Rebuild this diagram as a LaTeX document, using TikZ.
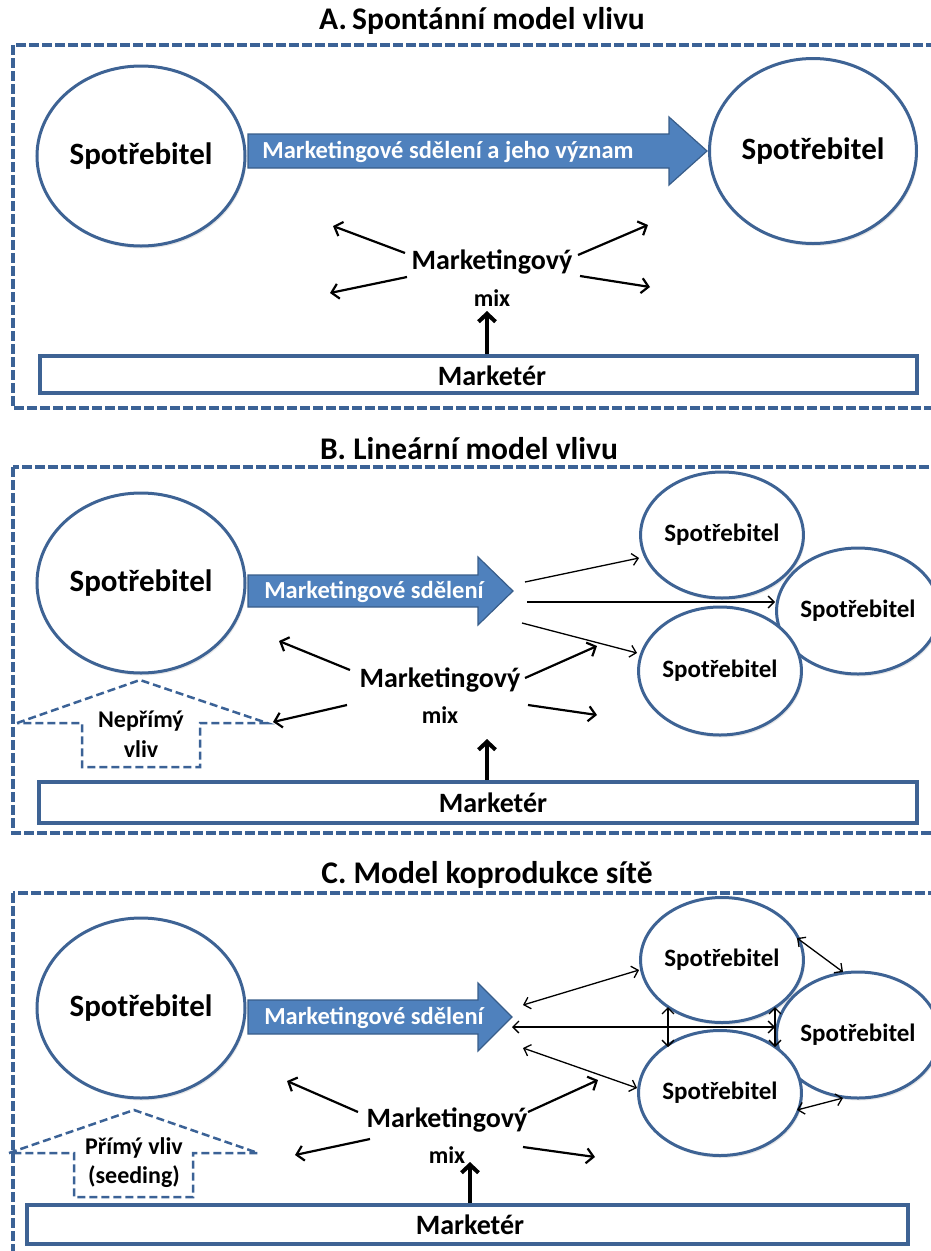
\documentclass[tikz,border=0pt]{standalone}
\usepackage{fontspec}
\setmainfont{Carlito}
\usetikzlibrary{arrows.meta,shapes.geometric,shadows}

\definecolor{frameblue}{RGB}{59,98,150}
\definecolor{ellblue}{RGB}{62,99,148}
\definecolor{arrfill}{RGB}{79,129,189}
\definecolor{arrline}{RGB}{56,93,138}

\tikzset{
  ttl/.style={font=\bfseries\fontsize{31.5}{33}\selectfont},
  ell/.style={ellipse, draw=ellblue, line width=3pt, fill=white, inner sep=0pt,
    drop shadow={shadow xshift=1.5pt, shadow yshift=-2.5pt, opacity=0.18},
    font=\bfseries\fontsize{31}{33}\selectfont},
  sell/.style={ell, font=\bfseries\fontsize{25}{27}\selectfont},
  panelframe/.style={draw=frameblue, line width=3.5pt, dash pattern=on 10pt off 3pt},
  house/.style={draw=frameblue, line width=2.5pt, dash pattern=on 8pt off 4pt, line join=miter},
  bigarr/.style={fill=arrfill, draw=arrline, line width=1.2pt},
  msg/.style={text=white, font=\bfseries\fontsize{24.5}{26}\selectfont},
  mixlbl/.style={font=\bfseries\fontsize{28}{30}\selectfont},
  mixsmall/.style={font=\bfseries\fontsize{24}{26}\selectfont},
  hlbl/.style={font=\bfseries\fontsize{24}{26}\selectfont, align=center},
  mixarr/.style={-{Straight Barb[length=7pt,width=15pt]}, line width=2.2pt},
  uparr/.style={-{Straight Barb[length=8pt,width=17pt]}, line width=4pt},
  thinarr/.style={-{Straight Barb[length=6pt,width=12pt]}, line width=1.3pt},
  dblarr/.style={{Straight Barb[length=6pt,width=12pt]}-{Straight Barb[length=6pt,width=12pt]}, line width=1.3pt},
  mbox/.style={draw=ellblue, line width=4pt, fill=white, inner sep=0pt,
    drop shadow={shadow xshift=1.5pt, shadow yshift=-2pt, opacity=0.18}},
  mtext/.style={font=\bfseries\fontsize{28}{30}\selectfont}
}

\begin{document}
\begin{tikzpicture}[x=1pt,y=-1pt]
\useasboundingbox (0,0) rectangle (931,1251);
\clip (0,0) rectangle (931,1251);

% ================= A. spontaneous model =================
\node[ttl] (titleA) at (482,21) {A.\,Spontánní model vlivu};
\draw[panelframe] (13,45) rectangle (950,408);

\node[ell, minimum width=208, minimum height=180] (cA1) at (141,156) {Spotřebitel};
\node[ell, minimum width=207, minimum height=185] (cA2) at (813,151) {Spotřebitel};

% message arrow
\draw[bigarr] (248,134) -- (669,134) -- (669,117) -- (707,151) -- (669,185) -- (669,168) -- (248,168) -- cycle;
\node[msg] (msgA) at (448,152) {Marketingové sdělení a jeho význam};

\node[mixlbl] (mA) at (492,262) {Marketingový};
\node[mixsmall] (xA) at (492,298) {mix};
\coordinate (a1s) at (405,253); \coordinate (a1e) at (333,226);
\coordinate (a2s) at (407,277); \coordinate (a2e) at (330,293);
\coordinate (a3s) at (578,255); \coordinate (a3e) at (648,225);
\coordinate (a4s) at (580,276); \coordinate (a4e) at (650,287);
\draw[mixarr] (a1s) -- (a1e);
\draw[mixarr] (a2s) -- (a2e);
\draw[mixarr] (a3s) -- (a3e);
\draw[mixarr] (a4s) -- (a4e);

\node[mbox, minimum width=877, minimum height=37] (boxA) at (478.5,374.5) {};
\node[mtext] (tA) at (492,376) {Marketér};
\coordinate (upAe) at (487,311);
\draw[uparr] (boxA.north -| upAe) -- (upAe);

% ================= B. linear model =================
\node[ttl] (titleB) at (469,449) {B. Lineární model vlivu};
\draw[panelframe] (13,467) rectangle (950,833);

\node[ell, minimum width=208, minimum height=180] (cB) at (141,583) {Spotřebitel};
\draw[bigarr] (248,575) -- (478,575) -- (478,557) -- (513,591) -- (478,625) -- (478,607) -- (248,607) -- cycle;
\node[msg] (msgB) at (374,592) {Marketingové sdělení};

\node[sell, minimum width=145, minimum height=126] (sB1) at (722,535) {Spotřebitel};
\node[sell, minimum width=146, minimum height=126] (sB2) at (858,611) {Spotřebitel};
\node[sell, minimum width=146, minimum height=128] (sB3) at (720,671) {Spotřebitel};

\coordinate (b1) at (525,582);
\coordinate (b2) at (527,602);
\coordinate (b3) at (522,623);
\draw[thinarr] (b1) -- (sB1.west |- 0,558);
\draw[thinarr] (b2) -- (sB2.west |- b2);
\draw[thinarr] (b3) -- (sB3.west |- 0,653);

\node[mixlbl] (mB) at (440,680) {Marketingový};
\node[mixsmall] (xB) at (440,715) {mix};
\coordinate (c1s) at (350,670); \coordinate (c1e) at (279,641);
\coordinate (c2s) at (347,705); \coordinate (c2e) at (273,722);
\coordinate (c3s) at (525,678); \coordinate (c3e) at (597,646);
\coordinate (c4s) at (528,705); \coordinate (c4e) at (597,715);
\draw[mixarr] (c1s) -- (c1e);
\draw[mixarr] (c2s) -- (c2e);
\draw[mixarr] (c3s) -- (c3e);
\draw[mixarr] (c4s) -- (c4e);

% indirect influence
\draw[house] (17,723) -- (140,680) -- (267,723) -- (200,723) -- (200,767) -- (82,767) -- (82,723) -- cycle;
\node[hlbl] (hB) at (141,734) {Nepřímý\\[4pt]vliv};

\node[mbox, minimum width=878, minimum height=41] (boxB) at (478,802.5) {};
\node[mtext] (tB) at (493,803) {Marketér};
\coordinate (upBe) at (487,739);
\draw[uparr] (boxB.north -| upBe) -- (upBe);

% ================= C. network co-production =================
\node[ttl] (titleC) at (487,875) {C. Model koprodukce sítě};
\draw[panelframe] (13,893) rectangle (950,1270);

\node[ell, minimum width=208, minimum height=180] (cC) at (141,1008) {Spotřebitel};
\draw[bigarr] (248,1000) -- (478,1000) -- (478,983) -- (512,1017) -- (478,1051) -- (478,1034) -- (248,1034) -- cycle;
\node[msg] (msgC) at (374,1018) {Marketingové sdělení};

\node[sell, minimum width=145, minimum height=125] (sC1) at (722,960) {Spotřebitel};
\node[sell, minimum width=146, minimum height=126] (sC2) at (858,1035) {Spotřebitel};
\node[sell, minimum width=146, minimum height=125] (sC3) at (720,1093) {Spotřebitel};

\coordinate (d1) at (523,1005);
\coordinate (d2) at (512,1027);
\coordinate (d3) at (523,1048);
\draw[dblarr] (d1) -- (sC1.west |- 0,970);
\draw[dblarr] (d2) -- (sC2.west |- d2);
\draw[dblarr] (d3) -- (sC3.west |- 0,1088);
\coordinate (v1a) at (668,1007); \coordinate (v1b) at (668,1047);
\coordinate (v2a) at (775,1007); \coordinate (v2b) at (775,1047);
\draw[dblarr] (v1a) -- (v1b);
\draw[dblarr] (v2a) -- (v2b);
\coordinate (n1a) at (797,938); \coordinate (n1b) at (843,972);
\coordinate (n2a) at (797,1110); \coordinate (n2b) at (843,1098);
\draw[dblarr] (n1a) -- (n1b);
\draw[dblarr] (n2a) -- (n2b);

\node[mixlbl] (mC) at (447,1120) {Marketingový};
\node[mixsmall] (xC) at (447,1155) {mix};
\coordinate (e1s) at (358,1112); \coordinate (e1e) at (287,1081);
\coordinate (e2s) at (370,1139); \coordinate (e2e) at (295,1155);
\coordinate (e3s) at (528,1112); \coordinate (e3e) at (598,1080);
\coordinate (e4s) at (523,1147); \coordinate (e4e) at (595,1157);
\draw[mixarr] (e1s) -- (e1e);
\draw[mixarr] (e2s) -- (e2e);
\draw[mixarr] (e3s) -- (e3e);
\draw[mixarr] (e4s) -- (e4e);

% direct influence (seeding)
\draw[house] (9,1153) -- (134,1110) -- (258,1153) -- (193,1153) -- (193,1197) -- (74,1197) -- (74,1153) -- cycle;
\node[hlbl] (hC) at (134,1163) {Přímý vliv\\[3pt](seeding)};

\node[mbox, minimum width=881, minimum height=39] (boxC) at (467.5,1224.5) {};
\node[mtext] (tC) at (470,1225) {Marketér};
\coordinate (upCe) at (470,1162);
\draw[uparr] (boxC.north -| upCe) -- (upCe);
\end{tikzpicture}
\end{document}
